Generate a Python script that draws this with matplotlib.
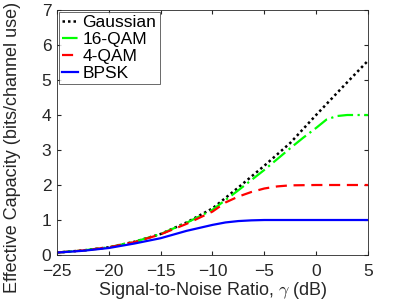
import matplotlib
matplotlib.use("Agg")
from matplotlib import pyplot as plt

plt.rcParams['font.family'] = ['Liberation Sans', 'DejaVu Sans']
plt.rcParams['mathtext.fontset'] = 'cm'

# SNR points (dB) and values
snrGauss = [-25, -22.5, -20, -17.5, -15, -12.5, -10, -7.5, -5, -2.5, 0, 2.5, 5]
gaussian = [0.07, 0.13, 0.22, 0.38, 0.60, 0.93, 1.33, 1.93, 2.55, 3.20, 4.00, 4.78, 5.55]

snrQam16 = [-25, -22.5, -20, -17.5, -15, -12.5, -10, -7.5, -5, -2.5, -1.25, 0, 1, 2, 3, 4, 5]
qam16 = [0.07, 0.13, 0.22, 0.38, 0.60, 0.92, 1.29, 1.85, 2.43, 3.05, 3.35, 3.63, 3.87, 3.97, 4.0, 4.0, 4.0]

snrQam4 = [-25, -22.5, -20, -17.5, -15, -12.5, -10, -8.75, -7.5, -6.25, -5, -3.75, -2.5, 0, 2.5, 5]
qam4 = [0.07, 0.13, 0.22, 0.37, 0.59, 0.89, 1.24, 1.50, 1.67, 1.80, 1.90, 1.96, 1.99, 2.0, 2.0, 2.0]

snrBpsk = [-25, -22.5, -20, -17.5, -15, -12.5, -10, -8.75, -7.5, -6.25, -5, -2.5, 0, 2.5, 5]
bpsk = [0.07, 0.12, 0.20, 0.33, 0.48, 0.69, 0.86, 0.93, 0.97, 0.99, 1.0, 1.0, 1.0, 1.0, 1.0]

axisGray = (0.15, 0.15, 0.15)

fig = plt.figure(figsize=(4.03, 3.02), dpi=100)
ax = fig.add_axes([0.1414, 0.1556, 0.7716, 0.8113])

ax.plot(snrGauss, gaussian, color='black', linestyle=(0, (1, 1.2)), linewidth=1.8, label='Gaussian')
ax.plot(snrQam16, qam16, color=(0, 1, 0), linestyle=(0, (7, 2, 1, 2)), linewidth=1.6, label='16-QAM')
ax.plot(snrQam4, qam4, color=(1, 0, 0), linestyle=(0, (5, 3)), linewidth=1.6, label='4-QAM')
ax.plot(snrBpsk, bpsk, color=(0, 0, 1), linestyle='-', linewidth=1.6, label='BPSK')

ax.set_xlim(-25, 5)
ax.set_ylim(0, 7)
ax.set_xticks(range(-25, 6, 5))
ax.set_yticks(range(0, 8))
ax.tick_params(direction='in', top=True, right=True, labelsize=12.5, colors=axisGray, length=3)
ax.tick_params(axis='x', pad=6.5)
ax.tick_params(axis='y', pad=4)
for spine in ax.spines.values():
    spine.set_color(axisGray)
    spine.set_linewidth(0.6)

ax.set_xlabel(r'Signal-to-Noise Ratio, $\gamma$ (dB)', fontsize=13, color=axisGray, labelpad=0.5)
ax.set_ylabel('Effective Capacity (bits/channel use)', fontsize=13, color=axisGray)
ax.yaxis.set_label_coords(-0.115, 0.44)

leg = ax.legend(loc='upper left', fontsize=12.5, handlelength=0.9, handletextpad=0.25,
                borderpad=0.2, labelspacing=0.1, borderaxespad=0.1, fancybox=False)
leg.get_frame().set_edgecolor(axisGray)
leg.get_frame().set_linewidth(0.6)

fig.savefig('out.png', dpi=100)
